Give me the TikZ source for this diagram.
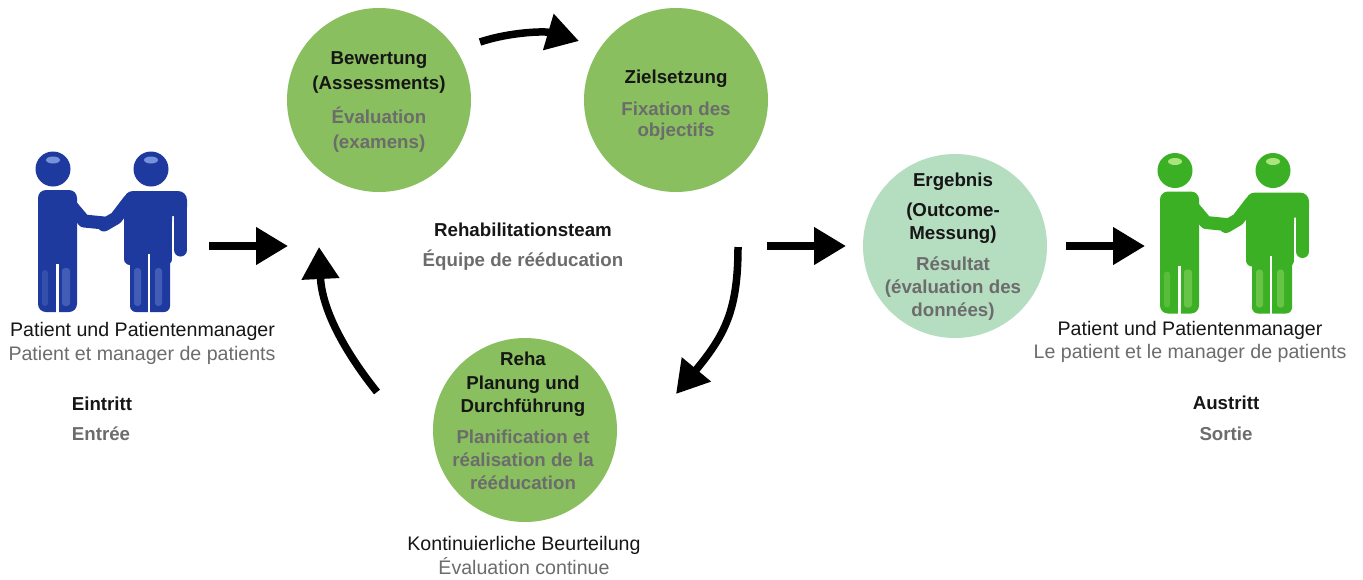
\documentclass[tikz,border=0pt]{standalone}
\usepackage{fontspec}
\setmainfont{Liberation Sans}
\usetikzlibrary{arrows.meta}
\definecolor{cgreen}{RGB}{137,191,94}
\definecolor{cmint}{RGB}{181,221,192}
\definecolor{tblack}{RGB}{22,22,22}
\definecolor{tgrey}{RGB}{108,108,108}
\definecolor{pblue}{RGB}{30,58,158}
\definecolor{pbluehi}{RGB}{118,146,218}
\definecolor{pgreen}{RGB}{60,176,36}
\definecolor{pgreenhi}{RGB}{170,228,125}
\tikzset{
  pics/pair/.style 2 args={code={
    % left person
    \fill[#1] (53,169) circle[radius=17.5pt];
    \fill[#1, rounded corners=8pt] (38,190) rectangle (77,312);
    \draw[#1, line width=13pt, line cap=round, line join=round] (68,202) -- (84,221) -- (104,223);
    \draw[white, line width=2.5pt] (57.5,264) -- (57.5,314);
    \fill[#2] (53,160) ellipse[x radius=7pt, y radius=3.5pt];
    \fill[#2, opacity=0.4, rounded corners=3pt] (62,268) rectangle (70,306);
    \fill[#2, opacity=0.25, rounded corners=3pt] (42,270) rectangle (48,306);
    % right person
    \fill[#1] (151,169) circle[radius=17.5pt];
    \fill[#1, rounded corners=9pt] (124,191) rectangle (187,216);
    \fill[#1, rounded corners=6pt] (124,200) rectangle (172,265);
    \fill[#1, rounded corners=6pt] (130,250) rectangle (170,312);
    \draw[#1, line width=13pt, line cap=round] (180.5,206) -- (180.5,250);
    \draw[white, line width=2pt] (173.2,222) -- (173.2,262);
    \draw[#1, line width=13pt, line cap=round, line join=round] (129,201) -- (116,218) -- (104,225);
    \draw[white, line width=2.5pt] (149,254) -- (149,314);
    \fill[#2] (151,160) ellipse[x radius=7pt, y radius=3.5pt];
    \fill[#2, opacity=0.4, rounded corners=3pt] (134,268) rectangle (141,306);
    \fill[#2, opacity=0.4, rounded corners=3pt] (155,268) rectangle (162,306);
  }}
}
\begin{document}
\begin{tikzpicture}[x=1pt,y=-1pt,
  circ/.style={circle, minimum size=184pt, inner sep=0pt, draw=none, fill=cgreen},
  de/.style={font=\bfseries\fontsize{18.7}{22}\selectfont, text=tblack, anchor=base, inner sep=0pt},
  fr/.style={de, text=tgrey},
  lab/.style={font=\fontsize{19.6}{23}\selectfont, text=tblack, anchor=base, inner sep=0pt},
  labfr/.style={lab, text=tgrey},
  arr/.style={line width=7.5pt, draw=black, -{Triangle[length=32pt,width=36pt]}}
]
\useasboundingbox[fill=white] (0,0) rectangle (1363,579);

% circles
\node[circ] (bew) at (379,100) {};
\node[circ] (ziel) at (676,100) {};
\node[circ] (reha) at (525,430) {};
\node[circ, fill=cmint] (erg) at (955,246) {};

% figures
\pic at (0,0) {pair={pblue}{pbluehi}};
\pic at (1122,1.5) {pair={pgreen}{pgreenhi}};

% texts in circles
\node[de] (t1) at (379,64.3) {Bewertung};
\node[de] (t2) at (379,89.3) {(Assessments)};
\node[fr] (t3) at (379,123.3) {Évaluation};
\node[fr] (t4) at (379,148.3) {(examens)};

\node[de] (t5) at (676,83.3) {Zielsetzung};
\node[fr] (t6) at (676,115) {Fixation des};
\node[fr] (t7) at (676,136.7) {objectifs};

\node[de] (t8) at (523,236) {Rehabilitationsteam};
\node[fr] (t9) at (523,266.5) {Équipe de rééducation};

\node[de] (t10) at (523,365.7) {Reha};
\node[de] (t11) at (523,389) {Planung und};
\node[de] (t12) at (523,412.3) {Durchführung};
\node[fr] (t13) at (523,443.3) {Planification et};
\node[fr] (t14) at (523,466) {réalisation de la};
\node[fr] (t15) at (523,489.3) {rééducation};

\node[lab] (t16) at (524,550.7) {Kontinuierliche Beurteilung};
\node[labfr] (t17) at (524,574) {Évaluation continue};

\node[de] (t18) at (953,186) {Ergebnis};
\node[de] (t19) at (953,216.7) {(Outcome-};
\node[de] (t20) at (953,239.3) {Messung)};
\node[fr] (t21) at (953,270.7) {Résultat};
\node[fr] (t22) at (953,293.3) {(évaluation des};
\node[fr] (t23) at (953,316) {données)};

% side labels
\node[lab] (t24) at (142.5,336.7) {Patient und Patientenmanager};
\node[labfr] (t25) at (142,360) {Patient et manager de patients};
\node[de] (t26) at (102,410.7) {Eintritt};
\node[fr] (t27) at (101,440) {Entrée};

\node[lab] (t28) at (1190,335) {Patient und Patientenmanager};
\node[labfr] (t29) at (1190,358) {Le patient et le manager de patients};
\node[de] (t30) at (1226,409) {Austritt};
\node[fr] (t31) at (1226,440) {Sortie};

% arrows
\coordinate (a1s) at (209,246); \coordinate (a1e) at (288,246);
\coordinate (a2s) at (480,42);  \coordinate (a2e) at (579,41);
\coordinate (a3s) at (738,247); \coordinate (a3e) at (676,394);
\coordinate (a4s) at (377,392); \coordinate (a4e) at (319,247);
\coordinate (a5s) at (767,246); \coordinate (a5e) at (846,246);
\coordinate (a6s) at (1066,246); \coordinate (a6e) at (1145,246);

\draw[arr] (a1s) -- (a1e);
\draw[arr] (a2s) .. controls (510,32) and (545,31) .. (a2e);
\draw[arr] (a3s) .. controls (738,310) and (725,335) .. (a3e);
\draw[arr] (a4s) .. controls (345,352) and (322,310) .. (a4e);
\draw[arr] (a5s) -- (a5e);
\draw[arr] (a6s) -- (a6e);
\end{tikzpicture}
\end{document}
